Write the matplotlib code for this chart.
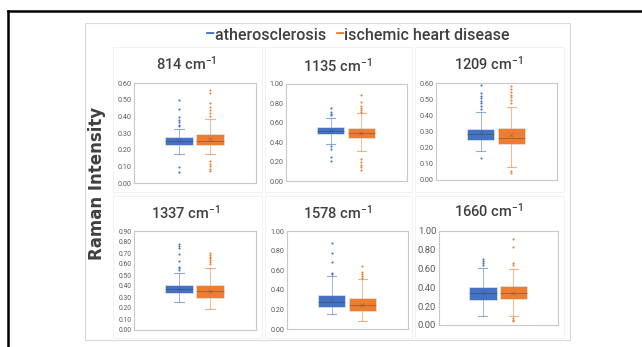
import numpy as np
import matplotlib.pyplot as plt
from matplotlib.patches import Rectangle
from matplotlib.lines import Line2D

# ============================================
# DATOS
# ============================================

bandas = ["814", "1135", "1209", "1337", "1578", "1660"]
ymax = [0.6, 1.0, 0.6, 0.9, 1.0, 1.0]
ystep = [0.1, 0.2, 0.1, 0.1, 0.2, 0.2]

# atherosclerosis
ath_q1 = [0.226, 0.485, 0.248, 0.333, 0.221, 0.268]
ath_med = [0.252, 0.515, 0.284, 0.370, 0.272, 0.339]
ath_q3 = [0.274, 0.553, 0.317, 0.409, 0.347, 0.404]
ath_lo = [0.172, 0.381, 0.178, 0.255, 0.153, 0.093]
ath_hi = [0.324, 0.653, 0.418, 0.521, 0.541, 0.611]
ath_mean = [0.255, 0.520, 0.295, 0.375, 0.300, 0.345]
ath_fliers = [
    [0.496, 0.444, 0.394, 0.380, 0.364, 0.350, 0.340, 0.096, 0.068],
    [0.749, 0.715, 0.694, 0.677, 0.360, 0.330, 0.250, 0.206],
    [0.586, 0.538, 0.522, 0.507, 0.491, 0.476, 0.460, 0.441, 0.137],
    [0.779, 0.764, 0.742, 0.688, 0.630, 0.576, 0.561, 0.542],
    [0.881, 0.772, 0.684, 0.575, 0.561],
    [0.707, 0.686, 0.664, 0.636],
]

# ischemic heart disease
ihd_q1 = [0.230, 0.447, 0.222, 0.294, 0.180, 0.279]
ihd_med = [0.255, 0.498, 0.259, 0.352, 0.245, 0.343]
ihd_q3 = [0.296, 0.543, 0.319, 0.409, 0.313, 0.411]
ihd_lo = [0.174, 0.306, 0.079, 0.188, 0.085, 0.100]
ihd_hi = [0.386, 0.698, 0.449, 0.567, 0.507, 0.600]
ihd_mean = [0.262, 0.500, 0.280, 0.355, 0.250, 0.345]
ihd_fliers = [
    [0.556, 0.540, 0.480, 0.454, 0.436, 0.420, 0.400, 0.134, 0.114, 0.100, 0.084, 0.070],
    [0.883, 0.811, 0.777, 0.756, 0.732, 0.711, 0.223, 0.196, 0.168, 0.141, 0.113],
    [0.580, 0.563, 0.547, 0.528, 0.511, 0.493, 0.476, 0.058, 0.041],
    [0.697, 0.682, 0.667, 0.652, 0.633, 0.615, 0.597],
    [0.643, 0.585, 0.561, 0.541, 0.524],
    [0.911, 0.825, 0.661, 0.636, 0.071, 0.054, 0.039],
]

# ============================================
# ESTILO
# ============================================

W, H = 642, 347
AZUL = "#4472C4"
NARANJA = "#ED7D31"
GRIS_TXT = "#595959"
FUENTE = ["Roboto", "DejaVu Sans"]
plt.rcParams["mathtext.default"] = "regular"

def fx(px):
    return px / W

def fy(py):
    return 1 - py / H

# posiciones de los ejes en pixeles: x0, x1, ytop, ybot
ejes_px = [(134, 256, 83, 183), (286, 407, 84, 181), (436, 557, 83, 180),
           (134, 256, 231, 330), (287, 408, 231, 329), (439, 558, 231, 325)]
titulos_px = [(186, 64), (338, 66), (489, 64), (186, 213), (338, 213), (489, 211)]
tick_fs = [5.2, 5.2, 5.2, 4.9, 5.2, 6.8]

fig = plt.figure(figsize=(W / 100, H / 100), dpi=100)
fig.patch.set_facecolor("white")

# borde negro y marco gris
fig.add_artist(Line2D([fx(8), 1], [fy(11), fy(11)], color="black", lw=1.8))
fig.add_artist(Line2D([fx(8), fx(8)], [fy(11), 0], color="black", lw=1.8))
fig.add_artist(Rectangle((fx(85), fy(340)), fx(570) - fx(85), fy(23) - fy(340),
                         fill=False, ec="#D9D9D9", lw=0.8))
for (cx0, cx1) in [(113, 262), (265, 412), (415, 564)]:
    for (cy0, cy1) in [(47, 192), (196, 338)]:
        fig.add_artist(Rectangle((fx(cx0), fy(cy1)), fx(cx1) - fx(cx0), fy(cy0) - fy(cy1),
                                 fill=False, ec="#F0F0F0", lw=0.6))

def caja(q1, med, q3, lo, hi, mean, fl):
    return dict(q1=q1, med=med, q3=q3, whislo=lo, whishi=hi, mean=mean, fliers=fl)

for i in range(6):
    x0, x1, yt, yb = ejes_px[i]
    ax = fig.add_axes([fx(x0), fy(yb), fx(x1) - fx(x0), fy(yt) - fy(yb)])
    stats = [caja(ath_q1[i], ath_med[i], ath_q3[i], ath_lo[i], ath_hi[i], ath_mean[i], ath_fliers[i]),
             caja(ihd_q1[i], ihd_med[i], ihd_q3[i], ihd_lo[i], ihd_hi[i], ihd_mean[i], ihd_fliers[i])]
    for k, (st, col) in enumerate(zip(stats, [AZUL, NARANJA])):
        ax.bxp([st], positions=[k + 1], widths=0.9, patch_artist=True, showmeans=True,
               boxprops=dict(facecolor=col, edgecolor="#E8E8E8", lw=0.5),
               medianprops=dict(color="#333333", lw=0.5, alpha=0.5),
               whiskerprops=dict(color=col, lw=0.6, alpha=0.6),
               capprops=dict(color=col, lw=0.8, alpha=0.6),
               capwidths=0.3,
               meanprops=dict(marker="x", markersize=2.2, markeredgecolor="#555555",
                              markeredgewidth=0.4, alpha=0.6),
               flierprops=dict(marker="o", markersize=1.5, markerfacecolor=col,
                               markeredgecolor=col, markeredgewidth=0))
    ax.set_xlim(-0.45, 3.48)
    ax.set_ylim(0, ymax[i])
    ticks = np.arange(0, ymax[i] + 1e-9, ystep[i])
    ax.set_yticks(ticks)
    ax.set_yticklabels([f"{t:.2f}" for t in ticks], fontsize=tick_fs[i],
                       color=GRIS_TXT, family=FUENTE)
    ax.set_xticks([])
    ax.tick_params(axis="y", length=0, pad=2)
    for s in ax.spines.values():
        s.set_color("#C8C8C8")
        s.set_linewidth(0.8)
    tx, ty = titulos_px[i]
    fig.text(fx(tx), fy(ty), bandas[i] + " cm$^{-1}$", ha="center", va="center",
             fontsize=10.5, fontweight="medium", color="#404040", family=FUENTE)

# leyenda: piezas colocadas una tras otra
renderer = fig.canvas.get_renderer()
piezas = [("\u2013", AZUL, "bold"), ("atherosclerosis  ", "#404040", "medium"),
          ("\u2013", NARANJA, "bold"), ("ischemic heart disease", "#404040", "medium")]
x = fx(205)
for txt, col, peso in piezas:
    t = fig.text(x, fy(35), txt, color=col, fontsize=11.5, fontweight=peso,
                 ha="left", va="center", family=FUENTE)
    bb = t.get_window_extent(renderer)
    x += bb.width / W

fig.text(fx(97), fy(183), "Raman Intensity", rotation=90, ha="center", va="center",
         fontsize=12, fontweight="bold", color="#404040", family=["DejaVu Sans"])

fig.savefig("out.png", dpi=100)
